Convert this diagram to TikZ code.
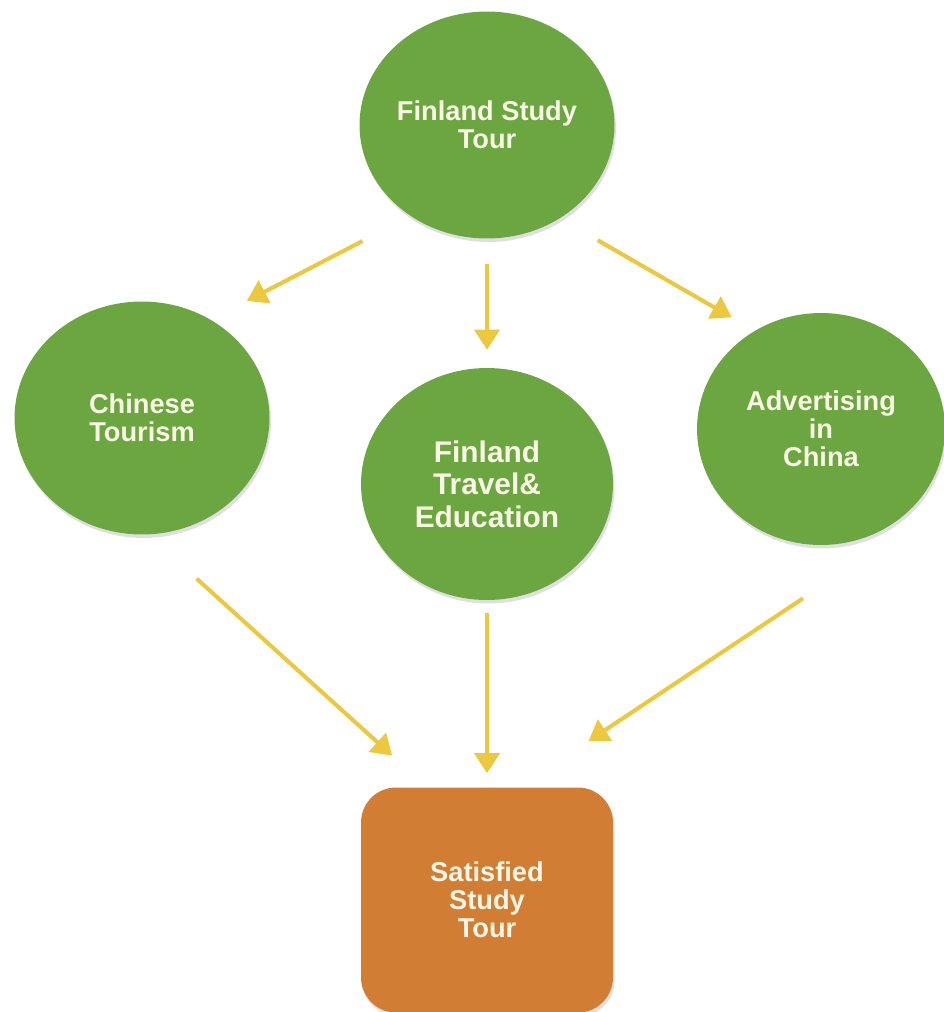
\documentclass[tikz,border=0pt]{standalone}
\usepackage{fontspec}
\setmainfont{Liberation Sans}
\usetikzlibrary{arrows.meta, calc}
\usetikzlibrary{shapes.geometric, shadows}
\definecolor{mygreen}{RGB}{108, 166, 64}
\definecolor{myorange}{RGB}{209, 126, 52}
\definecolor{myyellow}{RGB}{236, 200, 62}
\definecolor{mytext}{RGB}{250, 246, 230}
\tikzstyle{green} = [ellipse, draw=none, inner sep=0, fill=mygreen,
    minimum width=5.1cm, minimum height=4.6cm, text=mytext,
    drop shadow={opacity=0.25, shadow xshift=0.03cm, shadow yshift=-0.07cm},
    font=\fontsize{15.5}{16}\selectfont\bfseries, align=center]
\tikzstyle{orange} = [rectangle, rounded corners=0.7cm, draw=none,
    fill=myorange, minimum width=5.04cm, minimum height=4.5cm, text=mytext,
    drop shadow={opacity=0.25, shadow xshift=0.03cm, shadow yshift=-0.07cm},
    font=\fontsize{15.5}{16}\selectfont\bfseries, align=center]
\tikzstyle{arrow} = [draw=myyellow, line width=2.3pt,
    -{Triangle[length=0.4cm, width=0.5cm]}]

\begin{document}
\begin{tikzpicture}[x=0.02cm, y=-0.02cm]
    \useasboundingbox (0,0) rectangle (944,1012);

    % 1. Place the top topic
    \node[green, minimum height=4.54cm] (tour) at (487,125) {Finland Study\\Tour};

    % 2. Place the three fields in a row
    \node[green, minimum height=4.66cm] (tourism) at (142,418) {Chinese\\Tourism};
    \node[green, minimum width=5.04cm, minimum height=4.64cm,
        font=\fontsize{17}{18.5}\selectfont\bfseries] (travel) at (487,484)
        {Finland\\Travel\&\\Education};
    \node[green, minimum width=4.96cm, minimum height=4.64cm] (advert) at (821,429)
        {Advertising\\in\\China};

    % 3. Place the result
    \node[orange] (result) at (487,900) {Satisfied\\Study\\Tour};

    % 4. Draw connections
    \draw[arrow, shorten <=1.08cm, shorten >=0.81cm] (tour.230) -- (tourism.55);
    \draw[arrow, shorten <=0.5cm, shorten >=0.36cm] (tour.south) -- (travel.north);
    \draw[arrow, shorten <=0.87cm, shorten >=0.53cm] (tour.308) -- (advert.124);

    \draw[arrow, shorten <=1.31cm, shorten >=0.94cm] (tourism.273) -- (result.118);
    \draw[arrow, shorten <=0.26cm, shorten >=0.28cm] (travel.south) -- (result.north);
    \draw[arrow, shorten >=1.66cm] ($(advert.south)+(-18,53)$) -- (result.74);

\end{tikzpicture}
\end{document}
